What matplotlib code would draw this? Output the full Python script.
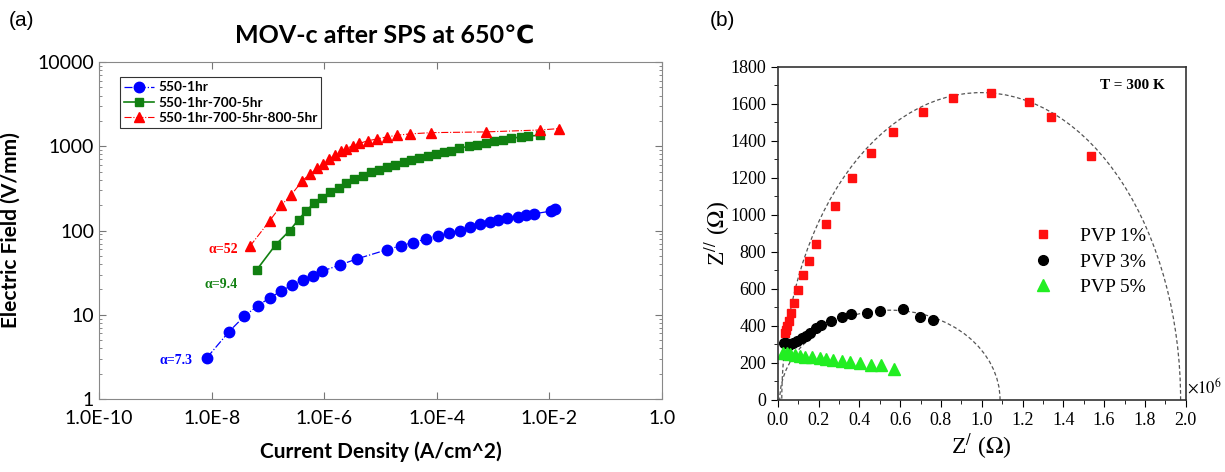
"""
figure a deux panneaux : varistance MOV-c (a) et diagramme de Nyquist (b)
"""

import numpy as np
import matplotlib
matplotlib.use('Agg')
from matplotlib import pyplot as plt
from matplotlib.patches import Arc
from matplotlib.ticker import LogLocator, NullFormatter, MultipleLocator

# ---- panneau (a) : champ electrique en fonction de la densite de courant
j_550 = [8.3e-9, 2.04e-8, 3.8e-8, 6.6e-8, 1.07e-7, 1.74e-7, 2.7e-7, 4.2e-7,
         6.3e-7, 9.3e-7, 1.9e-6, 3.8e-6, 1.29e-5, 2.3e-5, 3.8e-5, 6.3e-5,
         1.05e-4, 1.66e-4, 2.6e-4, 3.9e-4, 5.9e-4, 8.7e-4, 1.2e-3, 1.78e-3,
         2.8e-3, 3.8e-3, 5.4e-3, 1.07e-2, 1.26e-2]
e_550 = [3.1, 6.3, 9.6, 12.8, 15.8, 19.2, 22.5, 26, 29, 33, 39, 46, 59, 66,
         72, 79, 87, 93, 100, 110, 118, 126, 133, 139, 146, 151, 158, 170, 178]

j_700 = [6.3e-8, 1.38e-7, 2.45e-7, 3.5e-7, 4.8e-7, 6.6e-7, 9.1e-7, 1.26e-6,
         1.82e-6, 2.45e-6, 3.4e-6, 4.8e-6, 6.8e-6, 9.3e-6, 1.29e-5, 1.82e-5,
         2.6e-5, 3.5e-5, 4.8e-5, 7.1e-5, 9.8e-5, 1.35e-4, 1.82e-4, 2.5e-4,
         3.7e-4, 5.1e-4, 7.4e-4, 1.02e-3, 1.51e-3, 2.1e-3, 3.1e-3, 4.2e-3,
         6.8e-3]
e_700 = [34, 68, 100, 135, 171, 211, 246, 283, 318, 363, 407, 448, 490, 527,
         573, 605, 645, 688, 720, 765, 800, 850, 890, 950, 995, 1035, 1090,
         1140, 1200, 1240, 1290, 1320, 1350]

j_800 = [4.8e-8, 1.07e-7, 1.74e-7, 2.6e-7, 4.1e-7, 5.6e-7, 7.6e-7, 9.5e-7,
         1.23e-6, 1.55e-6, 1.95e-6, 2.45e-6, 3.2e-6, 4.2e-6, 5.9e-6, 8.7e-6,
         1.29e-5, 1.95e-5, 3.3e-5, 7.8e-5, 7.4e-4, 6.8e-3, 1.48e-2]
e_800 = [65, 130, 200, 265, 390, 470, 545, 620, 700, 790, 870, 940, 1010,
         1080, 1160, 1220, 1290, 1350, 1400, 1450, 1480, 1560, 1620]

labels_a = ['550-1hr', '550-1hr-700-5hr', '550-1hr-700-5hr-800-5hr']
alpha_txt = ['\u03b1=7.3', '\u03b1=9.4', '\u03b1=52']
xticks_a = [1e-10, 1e-8, 1e-6, 1e-4, 1e-2, 1.0]
xlabels_a = ['1.0E-10', '1.0E-8', '1.0E-6', '1.0E-4', '1.0E-2', '1.0']
yticks_a = [1, 10, 100, 1000, 10000]

# ---- panneau (b) : Z'' en fonction de Z' (x 10^6)
zr_1 = [0.037, 0.041, 0.047, 0.054, 0.067, 0.082, 0.098, 0.124, 0.153, 0.188,
        0.235, 0.279, 0.366, 0.457, 0.567, 0.71, 0.857, 1.046, 1.232, 1.338,
        1.536]
zi_1 = [360, 378, 400, 427, 471, 524, 594, 677, 750, 841, 950, 1049, 1200,
        1332, 1449, 1558, 1631, 1659, 1607, 1530, 1319]

zr_3 = [0.031, 0.041, 0.057, 0.077, 0.096, 0.118, 0.139, 0.158, 0.188, 0.212,
        0.261, 0.314, 0.359, 0.439, 0.501, 0.616, 0.698, 0.763]
zi_3 = [310, 306, 297, 306, 318, 333, 346, 360, 387, 405, 428, 446, 463,
        471, 480, 491, 450, 432]

zr_5 = [0.028, 0.044, 0.06, 0.085, 0.109, 0.134, 0.167, 0.207, 0.237, 0.273,
        0.314, 0.354, 0.403, 0.456, 0.506, 0.57]
zi_5 = [256, 252, 248, 243, 238, 234, 230, 225, 223, 216, 211, 203, 198,
        189, 189, 166]

labels_b = ['PVP 1%', 'PVP 3%', 'PVP 5%']
# ajustements (demi-cercles) : abscisse de depart, abscisse de fin, sommet
fit_1 = (0.02, 1.975, 1660)
fit_3 = (0.01, 1.09, 485)


if __name__ == '__main__':
    plt.rcParams['font.family'] = ['Lato', 'DejaVu Sans']
    fig = plt.figure(figsize=(12.25, 4.72), dpi=100)

    # ------------------------------------------------------------ (a)
    ax = fig.add_axes([99/1225, 73/472, 563/1225, 337/472])
    ax.plot(j_550, e_550, '-.', color='#0000ff', marker='o', ms=7.5, lw=0.9,
            label=labels_a[0])
    ax.plot(j_700, e_700, '-', color='#118011', marker='s', ms=6, lw=1.2,
            label=labels_a[1])
    ax.plot(j_800, e_800, '-.', color='#ff0000', marker='^', ms=7, lw=0.8,
            label=labels_a[2])
    ax.set_xscale('log')
    ax.set_yscale('log')
    ax.set_xlim(1e-10, 1.0)
    ax.set_ylim(1, 10000)
    ax.set_xticks(xticks_a, xlabels_a)
    ax.xaxis.set_minor_locator(plt.NullLocator())
    ax.set_yticks(yticks_a, [str(v) for v in yticks_a])
    ax.yaxis.set_minor_locator(LogLocator(base=10, subs=np.arange(2, 10)))
    ax.yaxis.set_minor_formatter(NullFormatter())
    ax.tick_params(which='both', direction='in', top=True, right=True,
                   labelsize=14, color='#777777')
    ax.tick_params(which='major', length=5)
    ax.tick_params(which='minor', length=2.5)
    ax.tick_params(axis='x', pad=8)
    for sp in ax.spines.values():
        sp.set_color('#888888')
    ax.set_xlabel('Current Density (A/cm^2)', fontsize=15, fontweight='bold',
                  labelpad=10)
    ax.set_ylabel('Electric Field (V/mm)', fontsize=15, fontweight='bold',
                  labelpad=12)
    leg = ax.legend(loc='upper left', bbox_to_anchor=(0.025, 0.975),
                    prop={'weight': 'bold', 'size': 9.8},
                    fancybox=False, edgecolor='black', handlelength=2.2,
                    borderpad=0.3, labelspacing=0.25, handletextpad=0.3)
    leg.get_frame().set_linewidth(0.8)

    # pentes alpha
    ax.text(2.3e-9, 2.9, alpha_txt[0], color='#0000ff', fontsize=10,
            family='Liberation Serif', fontweight='bold', ha='center', va='center')
    ax.text(1.5e-8, 23, alpha_txt[1], color='#118011', fontsize=10,
            family='Liberation Serif', fontweight='bold', ha='center', va='center')
    ax.text(1.6e-8, 60, alpha_txt[2], color='#ff0000', fontsize=10,
            family='Liberation Serif', fontweight='bold', ha='center', va='center')

    fig.text(385/1225, 1 - 35/472, 'MOV-c after SPS at 650\u2103', fontsize=18,
             fontweight='bold', ha='center', va='center',
             family=['Lato', 'DejaVu Sans'])
    fig.text(22/1225, 1 - 20/472, '(a)', fontsize=15, ha='center', va='center',
             family='Liberation Sans')

    # ------------------------------------------------------------ (b)
    plt.rcParams['mathtext.fontset'] = 'stix'
    bx = fig.add_axes([777.7/1225, 72/472, 408/1225, 333.3/472])
    for fit in (fit_1, fit_3):
        x0, x1, top = fit
        bx.add_patch(Arc(((x0 + x1)/2, 0), x1 - x0, 2*top, theta1=0,
                         theta2=180, ls=(0, (3, 2)), lw=0.9, color='#555555'))
    bx.plot(zr_1, zi_1, 's', color='#ff1010', ms=6, ls='none', label=labels_b[0])
    bx.plot(zr_3, zi_3, 'o', color='black', ms=7, ls='none', label=labels_b[1])
    bx.plot(zr_5, zi_5, '^', color='#22ee22', ms=8, ls='none', label=labels_b[2])
    bx.set_xlim(0, 2.0)
    bx.set_ylim(0, 1800)
    bx.xaxis.set_major_locator(MultipleLocator(0.2))
    bx.xaxis.set_minor_locator(MultipleLocator(0.1))
    bx.yaxis.set_major_locator(MultipleLocator(200))
    bx.yaxis.set_minor_locator(MultipleLocator(100))
    bx.xaxis.set_major_formatter(plt.FuncFormatter(lambda v, p: '%.1f' % v))
    bx.tick_params(which='both', direction='out', labelsize=13,
                   labelfontfamily='Liberation Serif')
    bx.tick_params(which='major', length=5)
    bx.tick_params(which='minor', length=3)
    for sp in bx.spines.values():
        sp.set_linewidth(1.2)
        sp.set_color('#333333')
    bx.set_xlabel(r"Z$^{/}$ ($\Omega$)", fontsize=17, family='Liberation Serif',
                  labelpad=2)
    bx.set_ylabel(r"Z$^{//}$ ($\Omega$)", fontsize=17, family='Liberation Serif',
                  labelpad=-2)
    bx.text(0.95, 0.945, 'T = 300 K', transform=bx.transAxes, fontsize=11,
            family='Liberation Serif', fontweight='bold', ha='right', va='center')
    bx.text(1.003, 0.04, r'$\times10^6$', transform=bx.transAxes, fontsize=12,
            ha='left', va='center')
    bx.legend(loc='upper left', bbox_to_anchor=(0.56, 0.57), frameon=False,
              prop={'family': 'Liberation Serif', 'size': 14},
              handletextpad=0.9, labelspacing=0.4)
    fig.text(722/1225, 1 - 20/472, '(b)', fontsize=15, ha='center', va='center',
             family='Liberation Sans')

    plt.savefig('out.png', dpi=100)
